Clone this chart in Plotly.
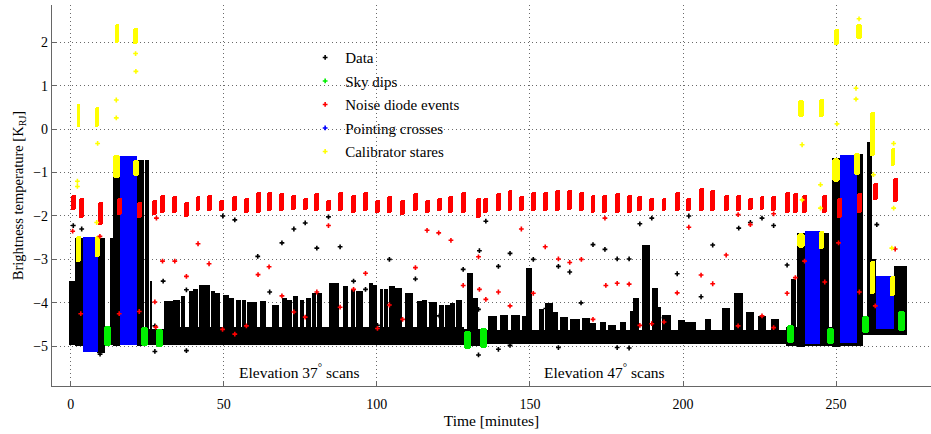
import numpy as np
import plotly.graph_objects as go

# ---------------- data ----------------
# Black "Data": big blocks around calibration sequences (start, end, low, high) [min, K]
block_start = [-0.7, 1.4, 8.6, 12.8, 13.9, 21.6, 24.3, 25.8, 235.4, 237.2, 244.9, 248.6, 256.8, 260.0, 261.7, 268.8]
block_end   = [1.5, 4.1, 11.2, 14.0, 16.2, 23.8, 25.7, 26.6, 236.9, 240.0, 247.6, 251.4, 258.9, 261.7, 263.0, 273.0]
block_low   = [-4.92, -5.0, -5.15, -4.95, -5.0, -5.0, -4.9, -4.95, -4.95, -5.02, -5.0, -5.02, -5.0, -4.75, -4.7, -4.7]
block_high  = [-3.5, -2.5, -2.5, -2.5, -0.66, -0.72, -0.72, -3.5, -3.46, -2.39, -2.39, -0.67, -0.57, -0.29, -3.0, -3.16]

# Black "Data": baseline band
band_start = [-0.7, 30.6, 128.5, 136.0, 233.8, 258.9]
band_end   = [30.6, 128.5, 136.0, 234.0, 258.9, 273.0]
band_low   = [-4.98, -4.98, -5.0, -4.95, -5.0, -4.75]
band_high  = [-4.6, -4.55, -4.6, -4.62, -4.55, -4.45]

# Black "Data": scan spikes (start, end, top), bottom on the band
spike_start = [30.7, 33.7, 36.2, 38.7, 40.0, 42.2, 43.8, 46.0, 47.4, 50.0, 51.9, 54.3, 56.1, 57.9, 59.5,
               61.9, 65.9, 69.1, 71.0, 72.8, 75.0, 77.1, 78.9, 80.7, 84.5, 85.9, 89.1, 91.6, 93.3, 97.6,
               98.9, 101.1, 102.5, 104.3, 106.1, 109.3, 113.3, 115.0, 117.2, 120.4, 122.6, 124.2, 125.9, 129.8, 131.3,
               136.5, 140.5, 144.1, 147.6, 148.9, 153.0, 155.2, 157.4, 160.1, 163.4, 167.2, 169.9, 173.1, 175.8, 179.7,
               182.8, 183.8, 186.7, 190.2, 191.6, 193.5, 198.6, 200.8, 207.4, 212.8, 217.0, 220.9, 224.7, 228.9]
spike_end   = [33.5, 35.6, 37.3, 39.8, 41.3, 43.5, 45.2, 47.0, 48.7, 51.4, 53.2, 55.4, 57.2, 59.0, 60.6,
               63.7, 68.0, 70.4, 72.0, 73.9, 76.1, 78.3, 80.0, 81.8, 85.6, 87.3, 90.5, 92.7, 95.4, 98.7,
               99.8, 101.9, 103.6, 105.7, 107.9, 111.5, 114.6, 116.3, 119.3, 121.7, 123.7, 125.3, 127.5, 131.3, 132.9,
               138.9, 142.7, 146.5, 148.7, 150.6, 154.3, 157.4, 159.0, 162.2, 166.1, 169.4, 171.5, 174.8, 178.0, 181.3,
               183.6, 185.3, 188.9, 191.6, 192.7, 196.0, 200.3, 204.1, 209.0, 215.0, 219.3, 223.1, 226.9, 231.3]
spike_top   = [-3.96, -3.94, -3.85, -3.73, -3.68, -3.58, -3.58, -3.73, -3.77, -3.83, -3.88, -3.94, -3.93, -3.98, -3.97,
               -3.96, -4.04, -3.88, -3.94, -3.85, -3.93, -3.88, -3.77, -3.77, -3.55, -3.55, -3.62, -3.68, -3.73, -3.55,
               -3.58, -3.68, -3.68, -3.62, -3.65, -3.77, -3.96, -3.94, -3.98, -4.04, -4.06, -4.0, -3.94, -3.31, -3.88,
               -4.3, -4.27, -4.28, -4.3, -3.19, -4.15, -4.0, -4.2, -4.32, -4.38, -4.34, -4.46, -4.45, -4.5, -4.45,
               -4.19, -3.88, -2.66, -3.65, -4.1, -4.28, -4.4, -4.45, -4.37, -4.11, -3.77, -4.21, -4.3, -4.38]
spike_base = -4.9

# Black "Data": isolated points
data_pts_t = [0.85, 3.6, 27.5, 27.5, 30.2, 37.8, 37.8, 49.7, 53.6, 61.1, 65.0, 69.0, 72.9, 76.6, 80.4,
              84.2, 88.0, 92.4, 96.3, 100.2, 104.1, 112.6, 120.4, 128.2, 133.5, 133.2, 133.2, 135.6, 139.7, 139.7,
              143.5, 143.5, 151.1, 155.2, 159.3, 159.3, 163.0, 166.7, 170.6, 174.5, 178.5, 178.5, 182.4, 182.4, 185.9,
              189.8, 193.8, 198.1, 201.9, 205.9, 209.7, 218.2, 222.0, 225.8, 229.6, 234.0, 263.3, 9.6]
data_pts_y = [-2.22, -2.3, -4.53, -5.12, -3.5, -3.7, -5.1, -2.0, -2.09, -2.93, -3.75, -2.62, -2.3, -2.16, -2.74,
              -2.02, -2.71, -3.5, -3.69, -4.52, -3.0, -3.45, -4.3, -3.23, -2.8, -4.15, -5.2, -2.12, -3.16, -5.07,
              -2.86, -4.98, -3.0, -4.13, -3.16, -5.03, -3.29, -4.0, -2.66, -2.77, -2.99, -5.03, -2.99, -5.04, -2.18,
              -2.05, -4.34, -3.33, -2.0, -3.86, -2.67, -2.28, -2.15, -2.05, -2.22, -3.13, -2.2, -5.18]

# Sky dips (green)
dip_start = [10.9, 23.1, 28.0, 128.6, 133.8, 234.0, 247.0, 258.4, 270.2]
dip_end   = [13.2, 25.2, 30.3, 130.6, 135.9, 236.2, 249.2, 260.8, 272.4]
dip_low   = [-4.99, -5.0, -5.02, -5.07, -5.03, -4.92, -4.95, -4.69, -4.65]
dip_high  = [-4.53, -4.56, -4.6, -4.65, -4.57, -4.5, -4.58, -4.3, -4.19]

# Noise diode events (red): cluster times and extents
noise_time = [0.85, 3.6, 9.8, 15.85, 22.4, 27.5, 30.0, 34.0, 37.8, 41.6, 45.4, 49.4, 53.6, 57.4, 61.2,
              65.0, 69.0, 72.9, 76.6, 80.2, 84.2, 88.0, 92.4, 96.2, 100.3, 104.1, 108.4, 112.6, 116.4, 120.4,
              124.2, 128.2, 133.2, 135.6, 139.7, 143.5, 147.2, 151.1, 155.0, 159.0, 162.9, 166.8, 170.6, 174.5, 178.7,
              182.4, 185.9, 189.8, 193.8, 198.1, 201.9, 205.9, 209.7, 214.1, 218.2, 222.0, 225.8, 229.6, 234.0, 236.7,
              239.7, 246.3, 251.1, 257.6, 263.0, 269.3]
noise_high = [-1.51, -1.59, -1.67, -1.59, -1.67, -1.63, -1.51, -1.53, -1.67, -1.53, -1.51, -1.63, -1.55, -1.59, -1.44,
              -1.44, -1.46, -1.51, -1.59, -1.46, -1.63, -1.44, -1.51, -1.44, -1.64, -1.55, -1.63, -1.47, -1.63, -1.59,
              -1.55, -1.44, -1.59, -1.59, -1.47, -1.40, -1.55, -1.44, -1.44, -1.40, -1.40, -1.44, -1.51, -1.51, -1.47,
              -1.51, -1.55, -1.59, -1.59, -1.44, -1.59, -1.36, -1.40, -1.51, -1.51, -1.59, -1.53, -1.55, -1.44, -1.46,
              -1.51, -1.51, -1.59, -1.47, -1.23, -1.13]
noise_low  = [-1.86, -2.05, -2.2, -1.97, -2.05, -1.97, -1.93, -1.93, -2.02, -1.89, -1.89, -1.89, -1.89, -1.93, -1.92,
              -1.89, -1.89, -1.86, -1.87, -1.89, -1.89, -1.89, -1.92, -1.89, -1.93, -1.93, -1.97, -1.89, -1.93, -1.89,
              -1.93, -1.93, -2.05, -1.93, -1.89, -1.89, -1.89, -1.89, -1.89, -1.89, -1.86, -1.89, -1.92, -1.93, -1.93,
              -1.93, -1.89, -1.89, -1.89, -1.89, -1.89, -1.89, -1.89, -1.89, -1.89, -1.86, -1.86, -1.89, -1.93, -1.93,
              -1.92, -1.93, -2.05, -1.93, -1.63, -1.67]
noise_pts_t = [0.65, 9.55, 3.3, 15.85, 22.4, 27.5, 28.0, 30.0, 34.0, 37.8, 41.6, 45.2, 49.6, 53.6, 57.4,
               61.2, 64.8, 69.0, 72.9, 76.6, 80.4, 84.2, 88.0, 92.4, 96.3, 100.2, 104.1, 108.4, 112.6, 116.4,
               120.2, 124.2, 128.2, 133.2, 133.5, 135.6, 139.7, 143.5, 147.2, 151.1, 155.0, 159.3, 163.0, 166.8, 170.6,
               174.5, 174.8, 178.5, 182.4, 185.9, 189.8, 193.8, 198.1, 201.9, 205.9, 209.7, 214.1, 218.0, 218.0, 222.0,
               225.8, 229.6, 229.6, 234.0, 236.7, 239.7, 246.3, 250.8, 257.6, 262.8, 269.3, 27.8]
noise_pts_y = [-2.35, -2.47, -4.25, -4.25, -4.2, -3.98, -2.05, -3.04, -3.04, -3.39, -2.64, -3.1, -4.61, -4.72, -4.53,
               -3.35, -3.17, -3.84, -4.21, -4.33, -3.75, -2.22, -4.1, -3.69, -3.32, -4.59, -4.05, -4.38, -3.19, -2.33,
               -2.39, -2.56, -3.6, -2.94, -3.69, -3.92, -3.75, -4.07, -2.3, -3.78, -2.71, -2.99, -3.07, -3.0, -4.38,
               -2.05, -3.6, -3.55, -3.57, -4.52, -4.48, -4.44, -3.77, -2.26, -3.36, -3.56, -2.9, -4.53, -1.97, -2.2,
               -4.3, -4.57, -1.95, -3.78, -3.42, -3.04, -3.52, -2.62, -3.75, -4.07, -2.76, -4.56]

# Pointing crosses (blue)
point_start = [3.9, 16.1, 240.0, 251.4, 262.9]
point_end   = [9.0, 21.7, 244.9, 256.8, 268.8]
point_low   = [-5.13, -4.98, -4.95, -4.92, -4.61]
point_high  = [-2.48, -0.63, -2.35, -0.59, -3.39]

# Calibrator stares (yellow)
cal_start = [1.8, 2.0, 7.9, 7.9, 14.4, 20.4, 13.9, 20.4, 237.3, 237.5, 244.5, 244.3, 248.8, 249.2, 256.0, 256.6, 261.2, 261.2, 267.6, 267.8]
cal_end   = [3.4, 3.1, 9.6, 9.2, 15.8, 22.0, 16.0, 22.4, 240.0, 239.4, 246.2, 246.0, 251.4, 251.1, 257.7, 258.3, 262.8, 262.8, 269.3, 269.3]
cal_low   = [-3.05, 0.05, -2.95, 0.05, 1.98, 1.97, -1.12, -1.09, -2.73, 0.29, -2.77, 0.29, -1.21, 1.93, -1.05, 2.08, -0.63, -3.8, -3.85, -0.86]
cal_high  = [-2.47, 0.58, -2.47, 0.5, 2.43, 2.33, -0.59, -0.72, -2.39, 0.67, -2.35, 0.7, -0.66, 2.31, -0.54, 2.43, 0.4, -3.04, -3.39, -0.43]
cal_pts_t = [2.2, 2.2, 8.8, 8.5, 14.9, 14.9, 21.2, 21.3, 238.9, 238.9, 244.9, 244.9, 250.3, 256.5, 256.5, 262.2, 268.8, 268.8, 268.2, 257.5]
cal_pts_y = [-1.2, -1.32, -0.33, -2.15, 0.67, 0.26, 1.74, 1.33, -0.36, -1.63, -1.28, -1.82, 0.12, 0.94, 0.69, -1.05, -0.33, -1.82, -2.74, 2.54]

x_ticks = [0, 50, 100, 150, 200, 250]
y_ticks = [-5, -4, -3, -2, -1, 0, 1, 2]
legend_names = ["Data", "Sky dips", "Noise diode events", "Pointing crosses", "Calibrator stares"]

# ---------------- styling ----------------
BLACK, GREEN, RED, BLUE, YELLOW = "#000000", "#00ee00", "#ff0000", "#0000ff", "#ffff00"
FONT = "Liberation Serif"
SPIKE_PAD = 0.2      # visual widening of scan spikes (minutes)
NOISE_HALF = 0.8     # half width of noise-diode clusters (minutes)
MSIZE = 4

fig = go.Figure()


def add_spans(t0, t1, lo, hi, color, radius=None):
    t0, t1, lo, hi = map(lambda a: np.asarray(a, dtype=float), (t0, t1, lo, hi))
    mk = dict(color=color, line=dict(width=0))
    if radius is not None:
        mk["cornerradius"] = radius
    fig.add_trace(go.Bar(x=(t0 + t1) / 2, width=t1 - t0, base=lo, y=hi - lo,
                         marker=mk, showlegend=False, hoverinfo="skip"))


def add_points(t, y, color):
    fig.add_trace(go.Scatter(x=t, y=y, mode="markers", showlegend=False, hoverinfo="skip",
                             marker=dict(symbol="cross", size=MSIZE, color=color, line=dict(width=0))))


# Data
add_spans(band_start, band_end, band_low, band_high, BLACK)
ss, se = np.asarray(spike_start), np.asarray(spike_end)
add_spans(ss - SPIKE_PAD, se + SPIKE_PAD, np.full(len(spike_top), spike_base), spike_top, BLACK)
add_spans(block_start, block_end, block_low, block_high, BLACK)
add_points(data_pts_t, data_pts_y, BLACK)
# Pointing crosses
add_spans(point_start, point_end, point_low, point_high, BLUE)
# Sky dips
add_spans(dip_start, dip_end, dip_low, dip_high, GREEN, "50%")
# Noise diode events
nt = np.asarray(noise_time)
add_spans(nt - NOISE_HALF, nt + NOISE_HALF, noise_low, noise_high, RED, "50%")
add_points(noise_pts_t, noise_pts_y, RED)
# Calibrator stares
add_spans(cal_start, cal_end, cal_low, cal_high, YELLOW, "50%")
add_points(cal_pts_t, cal_pts_y, YELLOW)

# legend entries
for i, (name, col) in enumerate(zip(legend_names, [BLACK, GREEN, RED, BLUE, YELLOW])):
    fig.add_trace(go.Scatter(x=[None], y=[None], mode="markers", name=name, legendrank=i + 1,
                             legendgroup=name,
                             marker=dict(symbol="cross", size=MSIZE, color=col, line=dict(width=0))))

ann_font = dict(family=FONT, size=15.5, color="black")
fig.add_annotation(x=74.8, y=-5.57, xref="x", yref="y", showarrow=False,
                   text="Elevation 37<sup>°</sup> scans", font=ann_font)
fig.add_annotation(x=174.5, y=-5.57, xref="x", yref="y", showarrow=False,
                   text="Elevation 47<sup>°</sup> scans", font=ann_font)

axis_common = dict(showgrid=True, griddash="1px,3px", gridcolor="#6a6a6a", gridwidth=1,
                   showline=True, linecolor="#666666", linewidth=1.2, ticks="inside", ticklen=5,
                   tickcolor="#666666", zeroline=False, tickfont=dict(family=FONT, size=14, color="black"))

fig.update_layout(
    width=931, height=434,
    margin=dict(l=52, r=0, t=5, b=48),
    paper_bgcolor="white", plot_bgcolor="white",
    barmode="overlay", bargap=0,
    font=dict(family=FONT, size=14, color="black"),
    hovermode=False,
    showlegend=True,
    legend=dict(x=0.288, y=0.905, xanchor="left", yanchor="top", bgcolor="rgba(0,0,0,0)",
                borderwidth=0, tracegroupgap=1, font=dict(family=FONT, size=15, color="black"),
                itemsizing="trace"),
    xaxis=dict(range=[-6.1, 281.0], tickvals=x_ticks, ticklabelstandoff=5, **axis_common,
               title=dict(text="Time [minutes]", font=dict(family=FONT, size=15.5, color="black"), standoff=0)),
    yaxis=dict(range=[-5.915, 2.858], tickvals=y_ticks, **axis_common,
               title=dict(text="Brightness temperature [K<sub>RJ</sub>]",
                          font=dict(family=FONT, size=14.5, color="black"), standoff=6)),
)

fig.write_html("out.html")
